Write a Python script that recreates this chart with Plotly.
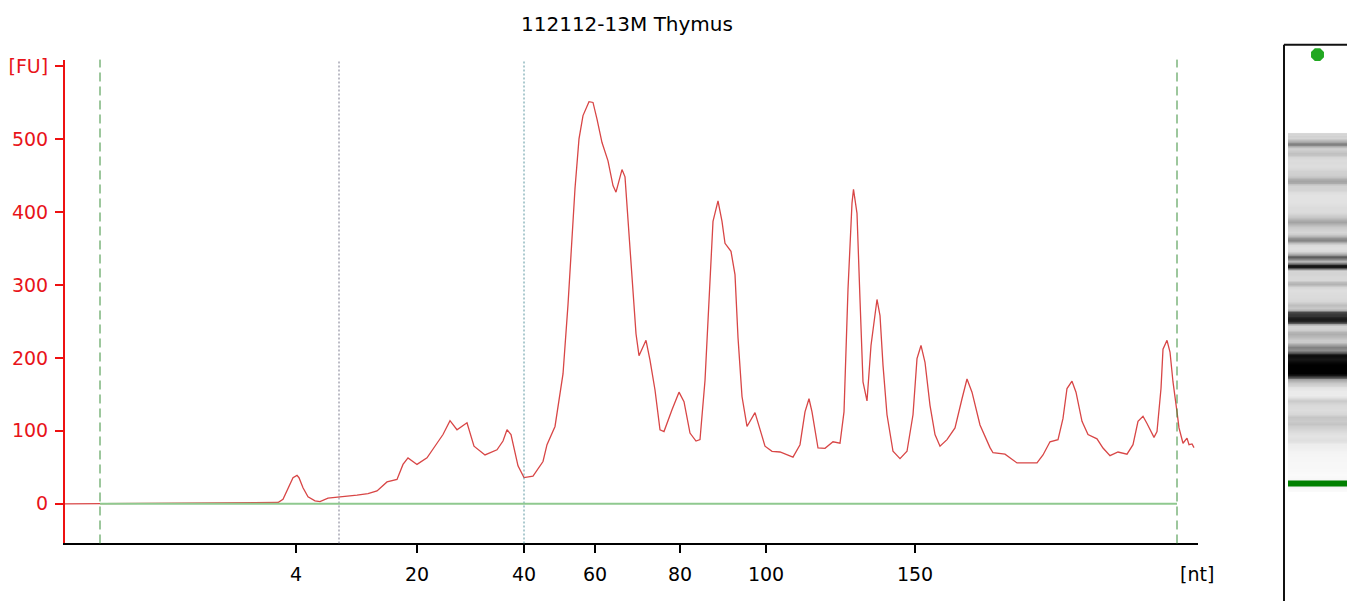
import plotly.graph_objects as go

# ---------------- data ----------------
title_text = "112112-13M Thymus"

# migration time (arbitrary units) and fluorescence [FU]
mig_time = [65, 278, 283, 288, 293, 297, 299, 303, 308, 315, 320, 328, 342, 357, 368, 377,
            387, 397, 403, 408, 417, 427, 437, 443, 450, 457, 467, 474, 485, 497, 503, 507,
            511, 518, 524, 533, 543, 547, 555, 563, 568, 572, 575, 579, 583, 589, 593, 597,
            602, 608, 613, 616, 622, 625, 628, 632, 636, 639, 646, 650, 655, 660, 664, 672,
            679, 684, 690, 696, 700, 705, 709, 713, 718, 722, 725, 731, 735, 738, 742, 747,
            755, 760, 765, 772, 780, 793, 800, 805, 809, 812, 818, 825, 833, 840, 844, 848,
            852, 853.5, 857, 860, 863, 867, 871, 877, 880, 883, 887, 893, 900, 907, 913, 917,
            921, 925, 930, 935, 940, 947, 955, 962, 967, 972, 980, 990, 993, 1005, 1017, 1037,
            1043, 1050, 1058, 1063, 1067, 1072, 1076, 1082, 1088, 1097, 1103, 1110, 1118, 1127,
            1133, 1138, 1143, 1147, 1154, 1157, 1161, 1163, 1167, 1170, 1173, 1177, 1179, 1183,
            1187, 1189, 1192, 1194]
fluorescence = [0, 1.8, 6.3, 20, 35.8, 39, 35.8, 22, 9.5, 4, 3, 7.7, 9.5, 11.8, 14, 17.7,
                30, 33.5, 54, 63, 54, 63, 83, 95, 114, 101.5, 111, 79, 67, 74, 86, 101.5,
                95, 52, 36, 38, 58, 81, 106, 178, 273, 364, 432, 500, 532, 551, 550, 527,
                495, 470, 436, 427, 458, 448, 387, 305, 233, 203, 224, 197, 156, 101.5, 99, 129,
                153, 140, 97, 86, 88, 169, 287, 387, 415, 387, 357, 346, 314, 228, 147, 106,
                125, 101.5, 79, 72, 71, 64, 81, 126, 144, 126, 76.5, 76, 85, 83, 126, 294,
                412, 431, 398, 280, 167, 141, 217, 280, 258, 190, 122, 72, 62, 72, 122, 199,
                217, 194, 135, 95, 79, 88, 104, 144, 171, 153, 108, 77, 70, 68, 56, 56,
                67, 85, 88, 117, 158, 168, 153, 113, 95, 89, 76.5, 66, 71, 68,
                81, 113, 120, 110, 91, 99, 158, 212, 224, 208, 167, 126, 104, 83,
                90, 81, 82, 77]

# size ladder: nt sizes and the migration times where they fall
ladder_nt = [4, 20, 40, 60, 80, 100, 150]
ladder_time = [296, 417, 524, 595, 680, 766, 915]

fu_ticks = [0, 100, 200, 300, 400, 500, 600]
fu_labels = ["0", "100", "200", "300", "400", "500", "[FU]"]

analysis_window = [100, 1177]      # green dashed lines
region_bounds = [339, 524]         # dotted region lines
lower_marker_time = 296
upper_dot_time = 1396

# ---------------- layout helpers ----------------
OFF = 8                     # page body margin
W, H = 1355 - 2 * OFF, 609 - 2 * OFF


def fx(px):
    return (px - OFF) / W


def fy(py):
    return 1 - (py - OFF) / H


x0_px, x1_px = 65, 1198
ybot_px, ytop_px = 543, 55
xd = [fx(x0_px), fx(x1_px)]
yd = [fy(ybot_px), fy(ytop_px)]

fig = go.Figure()

fig.add_trace(go.Scatter(x=mig_time, y=fluorescence, mode="lines",
                         line=dict(color="#d84646", width=1.3),
                         hoverinfo="skip", showlegend=False))

# gel image built from the same electropherogram
gel_t = [t for t in mig_time if t >= 278]
gel_z = [[f, f] for t, f in zip(mig_time, fluorescence) if t >= 278]
fig.add_trace(go.Heatmap(x=[0.25, 0.75], y=gel_t, z=gel_z, xaxis="x2", yaxis="y2",
                         zmin=0, zmax=500, zsmooth="best", showscale=False,
                         hoverinfo="skip",
                         colorscale=[[0, "#fbfbfb"], [0.05, "#f1f1f1"], [0.15, "#d9d9d9"],
                                     [0.3, "#b0b0b0"], [0.45, "#808080"], [0.6, "#505050"],
                                     [0.8, "#1e1e1e"], [1, "#000000"]]))
fig.add_trace(go.Scatter(x=[0.5], y=[upper_dot_time], xaxis="x2", yaxis="y2", mode="markers",
                         marker=dict(symbol="octagon", size=14, color="#22a822"),
                         hoverinfo="skip", showlegend=False))

shapes = []
for t in analysis_window:
    shapes.append(dict(type="line", xref="x", yref="paper", x0=t, x1=t, y0=yd[0], y1=yd[1],
                       line=dict(color="#3a8f3a", width=1, dash="9px,5px")))
for t, c in zip(region_bounds, ["#7a7a8e", "#5a96a0"]):
    shapes.append(dict(type="line", xref="x", yref="paper", x0=t, x1=t, y0=yd[0], y1=yd[1],
                       line=dict(color=c, width=1, dash="2px,2px")))
shapes.append(dict(type="line", xref="x", yref="y", x0=analysis_window[0], x1=analysis_window[1],
                   y0=0, y1=0, line=dict(color="#8fc98f", width=2), layer="above"))
# gel frame
shapes.append(dict(type="line", xref="paper", yref="paper", x0=fx(1284), x1=fx(1284),
                   y0=0, y1=fy(40), line=dict(color="#111111", width=2)))
shapes.append(dict(type="line", xref="paper", yref="paper", x0=fx(1284), x1=1,
                   y0=fy(40), y1=fy(40), line=dict(color="#111111", width=2)))
shapes.append(dict(type="line", xref="x2", yref="y2", x0=0, x1=1,
                   y0=lower_marker_time, y1=lower_marker_time,
                   line=dict(color="#008000", width=6)))

gel_a, gel_b = 599.0, 0.3933   # gel page row = a - b * time
fig.update_layout(
    width=W, height=H,
    margin=dict(l=0, r=0, t=0, b=0),
    paper_bgcolor="white", plot_bgcolor="white",
    font=dict(family="DejaVu Sans, Verdana, sans-serif", size=19, color="black"),
    showlegend=False,
    shapes=shapes,
    xaxis=dict(domain=xd, range=[x0_px, x1_px], showgrid=False, zeroline=False,
               showline=True, linecolor="black", linewidth=2,
               ticks="outside", ticklen=8, tickwidth=2, tickcolor="black",
               tickvals=ladder_time, ticktext=[str(v) for v in ladder_nt],
               tickfont=dict(size=19, color="black"), ticklabelstandoff=5),
    yaxis=dict(domain=yd, range=[(503 - ybot_px) / 0.736, (503 - ytop_px) / 0.736],
               showgrid=False, zeroline=False,
               showline=True, linecolor="#ee1111", linewidth=2,
               ticks="outside", ticklen=8, tickwidth=2, tickcolor="#ee1111",
               tickvals=fu_ticks, ticktext=fu_labels,
               tickfont=dict(size=19, color="#e8141a"), ticklabelstandoff=3),
    xaxis2=dict(domain=[fx(1288), min(1.0, fx(1353))], range=[0, 1], visible=False),
    yaxis2=dict(domain=[0, fy(40)],
                range=[(gel_a - (H + OFF)) / gel_b, (gel_a - 40) / gel_b],
                visible=False),
    annotations=[
        dict(text=title_text, xref="paper", yref="paper", x=fx(627), y=fy(19),
             showarrow=False, xanchor="center", yanchor="middle",
             font=dict(size=20, color="black")),
        dict(text="[nt]", xref="x", yref="paper", x=1197, y=fy(574),
             showarrow=False, xanchor="center", yanchor="middle",
             font=dict(size=19, color="black")),
    ],
)

fig.write_html("out.html")
